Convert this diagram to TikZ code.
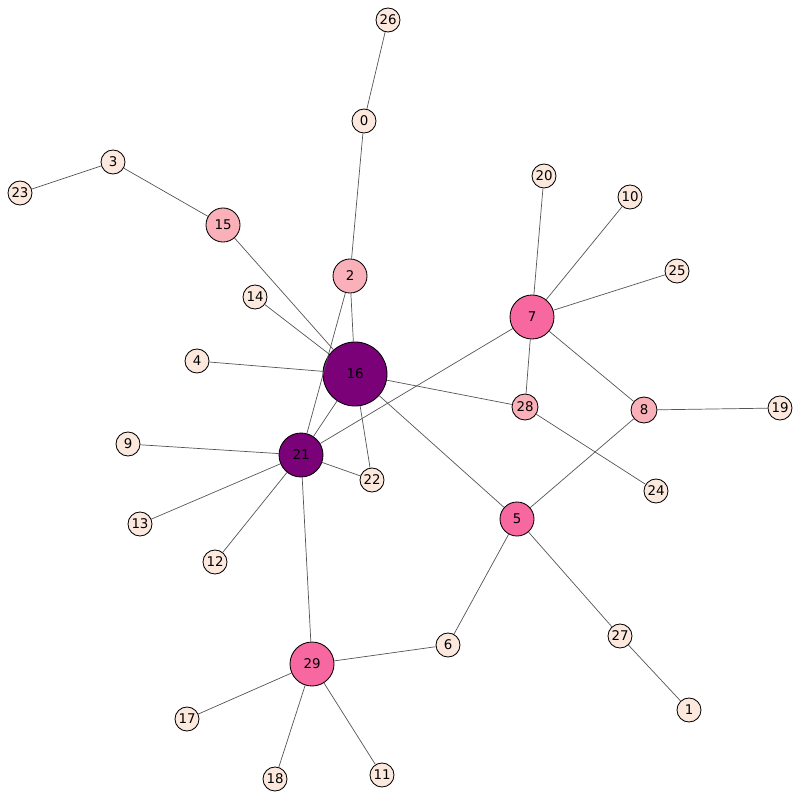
\documentclass[tikz,border=0pt]{standalone}
\usepackage{fontspec}
\setmainfont{DejaVu Sans}
\definecolor{lowc}{RGB}{253,232,222}
\definecolor{midc}{RGB}{250,176,184}
\definecolor{highc}{RGB}{247,104,161}
\definecolor{topc}{RGB}{122,1,119}
\definecolor{edgec}{RGB}{85,85,85}
\begin{document}
\begin{tikzpicture}[x=0.025cm, y=-0.025cm,
    vtx/.style={circle, draw=black, line width=0.6pt, inner sep=0pt,
      font=\fontsize{9.5}{11}\selectfont, text=black},
    small/.style={vtx, fill=lowc, minimum size=0.6cm},
    pale/.style={vtx, fill=midc, minimum size=0.65cm},
    mid/.style={vtx, fill=midc, minimum size=0.85cm},
    hot/.style={vtx, fill=highc, minimum size=1.1cm},
    hub/.style={vtx, fill=topc, minimum size=1.1cm},
    bighub/.style={vtx, fill=topc, minimum size=1.6cm},
    link/.style={draw=edgec, line width=0.5pt}]
    \useasboundingbox (0,0) rectangle (800,800);
    \node[small] (n26) at (388,20) {26};
    \node[small] (n0) at (364,121) {0};
    \node[small] (n3) at (113,162) {3};
    \node[small] (n23) at (20,193) {23};
    \node[mid] (n15) at (223,225) {15};
    \node[small] (n20) at (544,176) {20};
    \node[small] (n10) at (630,197) {10};
    \node[mid] (n2) at (350,276) {2};
    \node[small] (n25) at (677,271) {25};
    \node[small] (n14) at (255,297) {14};
    \node[hot] (n7) at (532,317) {7};
    \node[small] (n4) at (197,361) {4};
    \node[bighub] (n16) at (355,374) {16};
    \node[pale] (n28) at (525,407) {28};
    \node[pale] (n8) at (644,410) {8};
    \node[small] (n19) at (780,408) {19};
    \node[small] (n9) at (128,444) {9};
    \node[hub] (n21) at (301,455) {21};
    \node[small] (n22) at (372,480) {22};
    \node[small] (n24) at (656,491) {24};
    \node[mid, fill=highc] (n5) at (517,519) {5};
    \node[small] (n13) at (140,524) {13};
    \node[small] (n12) at (215,562) {12};
    \node[small] (n27) at (620,636) {27};
    \node[small] (n6) at (448,645) {6};
    \node[hot] (n29) at (312,664) {29};
    \node[small] (n1) at (689,710) {1};
    \node[small] (n17) at (187,719) {17};
    \node[small] (n18) at (275,779) {18};
    \node[small] (n11) at (382,775) {11};
    % edges
    \draw[link] (n26) -- (n0);
    \draw[link] (n0) -- (n2);
    \draw[link] (n3) -- (n23);
    \draw[link] (n3) -- (n15);
    \draw[link] (n15) -- (n16);
    \draw[link] (n2) -- (n16);
    \draw[link] (n2) -- (n21);
    \draw[link] (n14) -- (n16);
    \draw[link] (n4) -- (n16);
    \draw[link] (n16) -- (n21);
    \draw[link] (n16) -- (n22);
    \draw[link] (n16) -- (n28);
    \draw[link] (n16) -- (n5);
    \draw[link] (n7) -- (n20);
    \draw[link] (n7) -- (n10);
    \draw[link] (n7) -- (n25);
    \draw[link] (n7) -- (n21);
    \draw[link] (n7) -- (n28);
    \draw[link] (n7) -- (n8);
    \draw[link] (n8) -- (n19);
    \draw[link] (n8) -- (n5);
    \draw[link] (n28) -- (n24);
    \draw[link] (n21) -- (n9);
    \draw[link] (n21) -- (n13);
    \draw[link] (n21) -- (n12);
    \draw[link] (n21) -- (n22);
    \draw[link] (n21) -- (n29);
    \draw[link] (n5) -- (n6);
    \draw[link] (n5) -- (n27);
    \draw[link] (n27) -- (n1);
    \draw[link] (n29) -- (n6);
    \draw[link] (n29) -- (n17);
    \draw[link] (n29) -- (n18);
    \draw[link] (n29) -- (n11);
\end{tikzpicture}
\end{document}
